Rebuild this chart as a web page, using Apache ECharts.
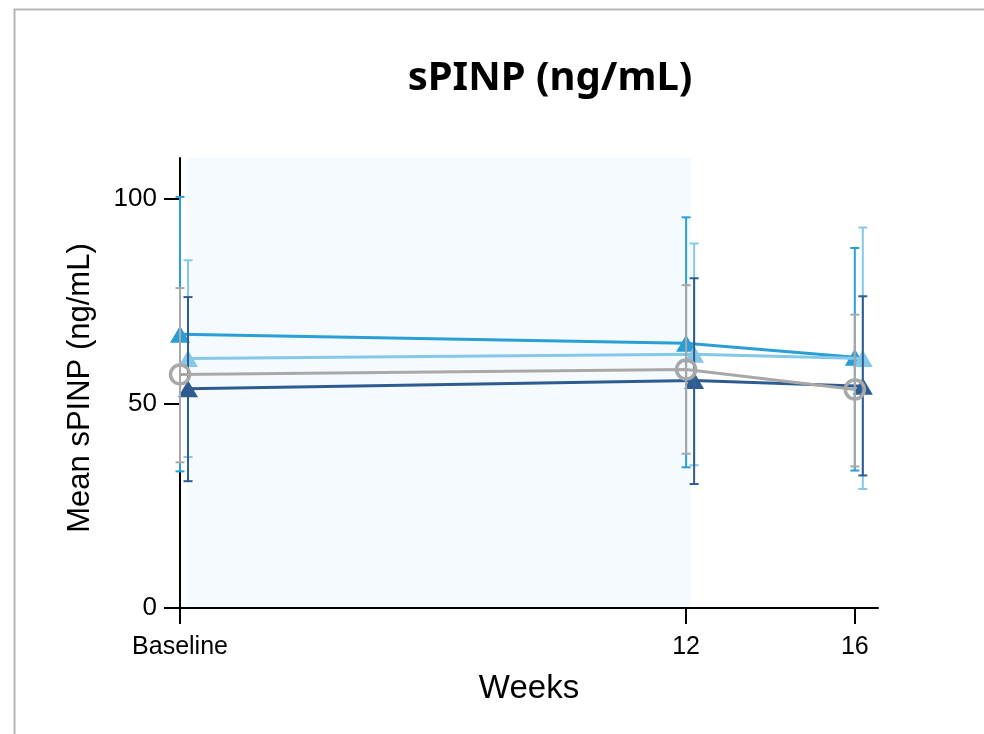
<!DOCTYPE html>
<html>
<head>
<meta charset="utf-8">
<script src="https://cdn.jsdelivr.net/npm/echarts@6/dist/echarts.min.js"></script>
<style>html,body{margin:0;padding:0;background:#fff}#c{width:984px;height:734px}</style>
</head>
<body>
<div id="c"></div>
<script>
// ---- data ----
const weeks = [0, 12, 16];
const tickLabels = ['Baseline', '12', '16'];
const yTicks = [0, 50, 100];
const seriesNames = ['Group A', 'Group B', 'Group C', 'Group D'];
const meanA = [66.9, 64.7, 61.3];
const lowA = [33.4, 34.4, 33.6];
const highA = [100.5, 95.5, 88.0];
const meanB = [61.0, 62.0, 61.0];
const lowB = [36.9, 34.9, 29.1];
const highB = [85.0, 89.1, 93.0];
const meanC = [53.6, 55.6, 54.2];
const lowC = [31.0, 30.3, 32.4];
const highC = [76.0, 80.6, 76.2];
const meanD = [57.1, 58.3, 53.4];
const lowD = [35.6, 37.7, 34.6];
const highD = [78.2, 78.9, 71.7];
const shadedWeeks = [0.17, 12.12];

// ---- styling ----
const colors = ['#2a9fd6', '#85c9e8', '#2f5c90', '#a8a8a8'];
const dodge = [0, 0.19, 0.19, 0];
const means = [meanA, meanB, meanC, meanD];
const lows = [lowA, lowB, lowC, lowD];
const highs = [highA, highB, highC, highD];
const symbols = ['triangle', 'triangle', 'triangle', 'circle'];

const series = [{
  type: 'line', data: [], z: -1, silent: true,
  markArea: {
    silent: true,
    itemStyle: { color: '#f5faff' },
    data: [[{ xAxis: shadedWeeks[0], yAxis: 0 }, { xAxis: shadedWeeks[1], yAxis: 111 }]]
  }
}];
for (let s = 0; s < 4; s++) {
  const isCircle = symbols[s] === 'circle';
  series.push({
    name: seriesNames[s],
    type: 'line',
    data: weeks.map((w, i) => [w + dodge[s], means[s][i]]),
    symbol: symbols[s],
    symbolSize: isCircle ? 19 : [20, 17],
    z: isCircle ? 6 : 2 + s * 0.1,
    lineStyle: { color: colors[s], width: 3 },
    itemStyle: isCircle ? { color: 'rgba(0,0,0,0)', borderColor: colors[s], borderWidth: 3.5 } : { color: colors[s] },
    emphasis: { disabled: true },
    clip: true
  });
}
for (let s = 0; s < 4; s++) {
  series.push({
    type: 'custom',
    z: s === 3 ? 7 : 5,
    data: weeks.map((w, i) => [w + dodge[s], lows[s][i], highs[s][i]]),
    renderItem: function (params, api) {
      const x = api.value(0);
      const lo = api.coord([x, api.value(1)]);
      const hi = api.coord([x, api.value(2)]);
      const hw = 4.5;
      const st = { stroke: colors[s], lineWidth: 2 };
      return {
        type: 'group',
        children: [
          { type: 'line', shape: { x1: lo[0], y1: lo[1], x2: hi[0], y2: hi[1] }, style: st },
          { type: 'line', shape: { x1: lo[0] - hw, y1: lo[1], x2: lo[0] + hw, y2: lo[1] }, style: st },
          { type: 'line', shape: { x1: hi[0] - hw, y1: hi[1], x2: hi[0] + hw, y2: hi[1] }, style: st }
        ]
      };
    }
  });
}

const chart = echarts.init(document.getElementById('c'), null, { renderer: 'canvas' });
chart.setOption({
  animation: false,
  backgroundColor: '#fff',
  title: {
    text: 'sPINP (ng/mL)',
    left: 545, top: 54, textAlign: 'center',
    textStyle: { fontFamily: 'Noto Sans', fontWeight: 'bold', fontSize: 40, color: '#000' }
  },
  graphic: [{
    type: 'rect', left: 12, top: 7, z: 100,
    shape: { width: 1000, height: 800 },
    style: { fill: 'none', stroke: '#b4b4b4', lineWidth: 2 }
  }],
  grid: { left: 180, right: 106, top: 158, bottom: 126 },
  xAxis: {
    type: 'value', min: 0, max: 16.55, z: 10,
    name: 'Weeks', nameLocation: 'middle', nameGap: 64,
    nameTextStyle: { fontFamily: 'Liberation Sans', fontSize: 33, color: '#000' },
    splitLine: { show: false },
    axisLine: { lineStyle: { color: '#000', width: 2 } },
    axisTick: { show: true, length: 16, customValues: weeks, lineStyle: { color: '#000', width: 2 } },
    axisLabel: {
      customValues: weeks, margin: 27,
      fontFamily: 'Liberation Sans', fontSize: 25, color: '#000',
      formatter: v => tickLabels[weeks.indexOf(v)]
    }
  },
  yAxis: {
    type: 'value', min: 0, max: 110,
    name: 'Mean sPINP (ng/mL)', nameLocation: 'middle', nameGap: 84,
    nameTextStyle: { fontFamily: 'Liberation Sans', fontSize: 31, color: '#000', padding: [0, 10, 0, 0] },
    splitLine: { show: false },
    axisLine: { show: true, lineStyle: { color: '#000', width: 2 } },
    axisTick: { show: true, length: 16, customValues: yTicks, lineStyle: { color: '#000', width: 2 } },
    axisLabel: { customValues: yTicks, margin: 23, fontFamily: 'Liberation Sans', fontSize: 26, color: '#000' }
  },
  series: series
});
</script>
</body>
</html>
